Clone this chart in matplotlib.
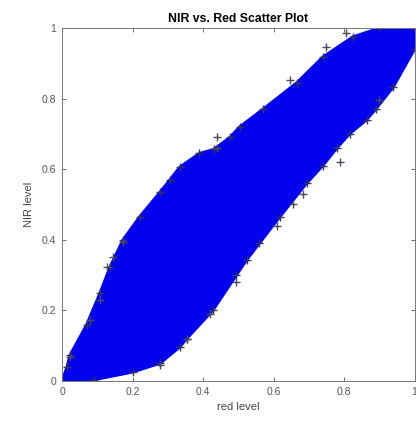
import numpy as np
import matplotlib
matplotlib.use('Agg')
import matplotlib.pyplot as plt

plt.rcParams['font.family'] = ['Liberation Sans', 'DejaVu Sans']

# upper (left) edge of the point cloud
upper_x = [0.0, 0.014, 0.023, 0.07, 0.108, 0.136, 0.173, 0.22, 0.278, 0.306, 0.334,
           0.39, 0.43, 0.476, 0.504, 0.57, 0.666, 0.74, 0.825, 0.9, 1.0]
upper_y = [0.0, 0.04, 0.074, 0.16, 0.25, 0.323, 0.40, 0.465, 0.535, 0.57, 0.606,
           0.645, 0.656, 0.69, 0.72, 0.77, 0.845, 0.918, 0.975, 1.0, 1.0]

# lower (right) edge of the point cloud
lower_x = [0.0, 0.09, 0.2, 0.278, 0.334, 0.354, 0.428, 0.495, 0.524, 0.56, 0.618,
           0.694, 0.74, 0.78, 0.816, 0.864, 0.89, 0.94, 1.0]
lower_y = [0.0, 0.003, 0.025, 0.05, 0.096, 0.12, 0.2, 0.3, 0.343, 0.39, 0.465,
           0.56, 0.61, 0.66, 0.70, 0.74, 0.77, 0.833, 0.94]

# stray points sticking out of the cloud
outlier_x = [0.023, 0.08, 0.108, 0.127, 0.145, 0.173, 0.44, 0.44, 0.646, 0.75, 0.807,
             0.278, 0.354, 0.42, 0.495, 0.61, 0.656, 0.685, 0.79, 0.9]
outlier_y = [0.068, 0.173, 0.23, 0.323, 0.35, 0.394, 0.69, 0.66, 0.853, 0.946, 0.985,
             0.045, 0.12, 0.19, 0.28, 0.44, 0.50, 0.53, 0.62, 0.796]

fig = plt.figure(figsize=(4.16, 4.23), dpi=100, facecolor='white')
ax = fig.add_axes([62 / 416, 42 / 423, 352.5 / 416, 353 / 423])

# dense cloud drawn as one filled region, edge markers on top
poly_x = upper_x + [1.0] + lower_x[::-1]
poly_y = upper_y + [1.0] + lower_y[::-1]
ax.fill(poly_x, poly_y, facecolor='#0202ee', edgecolor='#0202ee', linewidth=2)

ax.plot(upper_x, upper_y, linestyle='none', marker='+', ms=6, mew=1.0, color='#34345e')
ax.plot(lower_x, lower_y, linestyle='none', marker='+', ms=6, mew=1.0, color='#34345e')
ax.plot(outlier_x, outlier_y, linestyle='none', marker='+', ms=6, mew=1.0, color='#4a4a5a')

ax.set_xlim(0, 1)
ax.set_ylim(0, 1)
ticks = [0, 0.2, 0.4, 0.6, 0.8, 1]
tick_labels = ['0', '0.2', '0.4', '0.6', '0.8', '1']
ax.set_xticks(ticks)
ax.set_xticklabels(tick_labels)
ax.set_yticks(ticks)
ax.set_yticklabels(tick_labels)
ax.tick_params(direction='in', length=3, width=0.6, top=True, right=True,
               labelsize=7.5, colors='#555555', pad=4)
for s in ax.spines.values():
    s.set_color('#777777')
    s.set_linewidth(0.7)

ax.set_title('NIR vs. Red Scatter Plot', fontsize=8.8, fontweight='bold', pad=4)
ax.set_xlabel('red level', fontsize=8, color='#444444', labelpad=4)
ax.set_ylabel('NIR level', fontsize=8, color='#444444', labelpad=6)

plt.savefig('out.png', dpi=100)
